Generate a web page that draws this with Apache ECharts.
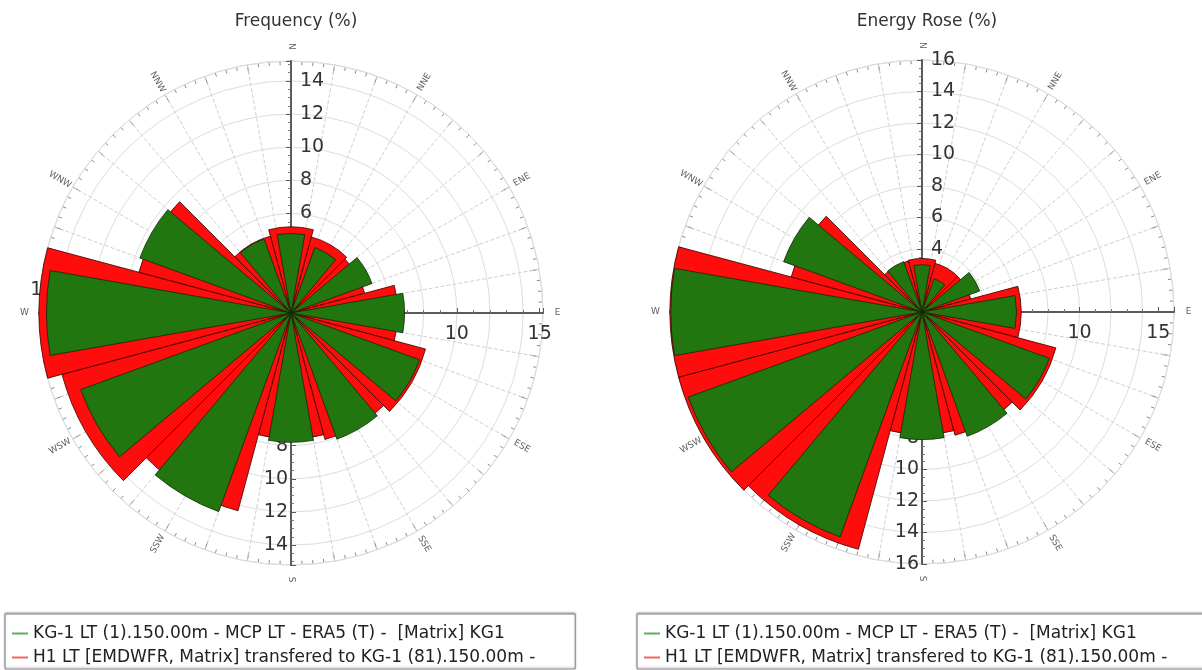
<!DOCTYPE html>
<html>
<head>
<meta charset="utf-8">
<script src="https://cdn.jsdelivr.net/npm/echarts@6/dist/echarts.min.js"></script>
<style>
html, body { margin: 0; padding: 0; background: #fff; }
#chart { width: 1202px; height: 670px; }
</style>
</head>
<body>
<div id="chart"></div>
<script>
// 12 direction sectors, N first, clockwise
var sectors = ['N', 'NNE', 'ENE', 'E', 'ESE', 'SSE', 'S', 'SSW', 'WSW', 'W', 'WNW', 'NNW'];

var nameKG1 = 'KG-1 LT (1).150.00m - MCP LT - ERA5 (T) -  [Matrix] KG1';
var nameH1 = 'H1 LT [EMDWFR, Matrix] transfered to KG-1 (81).150.00m -';

// Frequency (%)
var freqKG1 = [4.8, 4.2, 5.2, 6.85, 8.25, 8.1, 7.8, 12.75, 13.5, 14.75, 9.7, 4.75];
var freqH1 = [5.2, 4.75, 4.6, 6.45, 8.4, 7.9, 7.6, 12.35, 14.3, 15.2, 9.5, 4.8];
var freqMax = 15.2;

// Energy Rose (%)
var energyKG1 = [3.0, 2.25, 3.9, 6.0, 8.6, 8.4, 8.1, 15.2, 15.8, 15.95, 9.35, 3.4];
var energyH1 = [3.4, 3.2, 3.2, 6.3, 8.8, 8.1, 7.8, 15.6, 16.0, 16.0, 8.6, 3.35];
var energyMax = 16;

var GREEN = '#22760f';
var RED = '#ff0c0c';
var FONT = '"DejaVu Sans", Verdana, sans-serif';

var option = {
  backgroundColor: '#fff',
  animation: false,
  title: [],
  legend: [],
  polar: [],
  angleAxis: [],
  radiusAxis: [],
  series: []
};

function hiddenAngle(p, start) {
  return { polarIndex: p, type: 'value', min: 0, max: 360, startAngle: start,
    axisLine: { show: false }, axisTick: { show: false }, axisLabel: { show: false }, splitLine: { show: false } };
}

// radius axis drawn along one compass direction
function sideAxis(p, max, step, minorSplit, showMax, align, vAlign, margin) {
  return {
    polarIndex: p, type: 'value', min: 0, max: max, interval: step, z: 1,
    axisLine: { show: true, lineStyle: { color: '#5a5a5a', width: 2 } },
    axisTick: { show: true, length: 5, lineStyle: { color: '#5a5a5a' } },
    minorTick: { show: true, splitNumber: minorSplit, length: 3, lineStyle: { color: '#777' } },
    axisLabel: { fontSize: 19, color: '#333', fontFamily: FONT, margin: margin,
      align: align, verticalAlign: vAlign,
      showMinLabel: false, showMaxLabel: showMax },
    splitLine: { show: false }
  };
}

function addRose(k, cx, cy, max, green, red, title) {
  var base = k * 6;
  var center = [cx, cy];
  var radius = 252;
  for (var i = 0; i < 6; i++) option.polar.push({ center: center, radius: radius });

  option.title.push({
    text: title, left: cx, top: 8, textAlign: 'center',
    textStyle: { fontSize: 17, fontWeight: 'normal', color: '#333', fontFamily: FONT }
  });

  // bar polars: sectors centred on the directions
  [0, 1].forEach(function (j) {
    option.angleAxis.push({
      polarIndex: base + j, type: 'category', data: sectors, startAngle: 90 + 15,
      axisLine: { show: false }, axisTick: { show: false }, axisLabel: { show: false }, splitLine: { show: false }
    });
    option.radiusAxis.push({ polarIndex: base + j, type: 'value', min: 0, max: max, show: false });
  });

  // grid polar with north axis
  option.angleAxis.push({
    polarIndex: base + 2, type: 'value', min: 0, max: 360, interval: 10, startAngle: 90,
    axisLine: { show: true, lineStyle: { color: '#d6d6d6' } },
    axisTick: { show: true, inside: true, length: 9, lineStyle: { color: '#808080' } },
    minorTick: { show: true, splitNumber: 4, length: 4, lineStyle: { color: '#8a8a8a' } },
    axisLabel: { show: false },
    splitLine: { show: true, lineStyle: { color: '#cfcfcf', type: 'dashed' } }
  });
  var north = sideAxis(base + 2, max, 2, 4, max % 2 === 0, 'left', null, -9);
  north.splitLine = { show: true, lineStyle: { color: '#dddddd' } };
  option.radiusAxis.push(north);

  // south, east, west axes
  option.angleAxis.push(hiddenAngle(base + 3, 270));
  option.radiusAxis.push(sideAxis(base + 3, max, 2, 4, max % 2 === 0, 'right', null, -3));
  option.angleAxis.push(hiddenAngle(base + 4, 0));
  option.radiusAxis.push(sideAxis(base + 4, max, 5, 5, false, 'center', 'top', -12));
  option.angleAxis.push(hiddenAngle(base + 5, 180));
  option.radiusAxis.push(sideAxis(base + 5, max, 5, 5, false, 'center', 'bottom', -13));

  option.series.push({
    name: nameH1, type: 'bar', coordinateSystem: 'polar', polarIndex: base,
    data: red, barCategoryGap: '0%', z: 2, silent: true,
    itemStyle: { color: RED, borderColor: '#3a0000', borderWidth: 0.8 }
  });
  option.series.push({
    name: nameKG1, type: 'bar', coordinateSystem: 'polar', polarIndex: base + 1,
    data: green, barCategoryGap: '33.33%', z: 3, silent: true,
    itemStyle: { color: GREEN, borderColor: '#0d2a05', borderWidth: 0.8 }
  });

  // compass labels just outside the ring
  option.series.push({
    type: 'scatter', coordinateSystem: 'polar', polarIndex: base + 2, clip: false, silent: true,
    symbolSize: 0, z: 10,
    data: sectors.map(function (s, i) {
      var d = i * 360 / sectors.length;
      var phi = 90 - d;
      var rot = ((((phi + 90) % 180) + 180) % 180) - 90;
      return { name: s, value: [max * 1.058, d], label: { rotate: rot } };
    }),
    label: { show: true, position: 'inside', formatter: '{b}', fontSize: 9, color: '#333', fontFamily: FONT }
  });

  var isLeft = cx < 600;
  option.legend.push({
    left: isLeft ? 5 : 637, top: 614, orient: 'vertical', selectedMode: false,
    padding: [11, isLeft ? 40 : 120, 3, 7], itemGap: 7,
    itemWidth: 16, itemHeight: 2, icon: 'rect',
    backgroundColor: '#fff', borderColor: '#8a8a8a', borderWidth: 1,
    shadowColor: 'rgba(0,0,0,0.3)', shadowBlur: 2, shadowOffsetY: -1,
    textStyle: { fontSize: 17, color: '#222', fontFamily: FONT },
    itemStyle: { borderWidth: 0 },
    data: [
      { name: nameKG1, itemStyle: { color: '#5fae5a', borderWidth: 0 } },
      { name: nameH1, itemStyle: { color: '#f26464', borderWidth: 0 } }
    ]
  });
}

addRose(0, 291, 313, freqMax, freqKG1, freqH1, 'Frequency (%)');
addRose(1, 922, 312, energyMax, energyKG1, energyH1, 'Energy Rose (%)');

var chart = echarts.init(document.getElementById('chart'), null, { renderer: 'canvas' });
chart.setOption(option);
</script>
</body>
</html>
